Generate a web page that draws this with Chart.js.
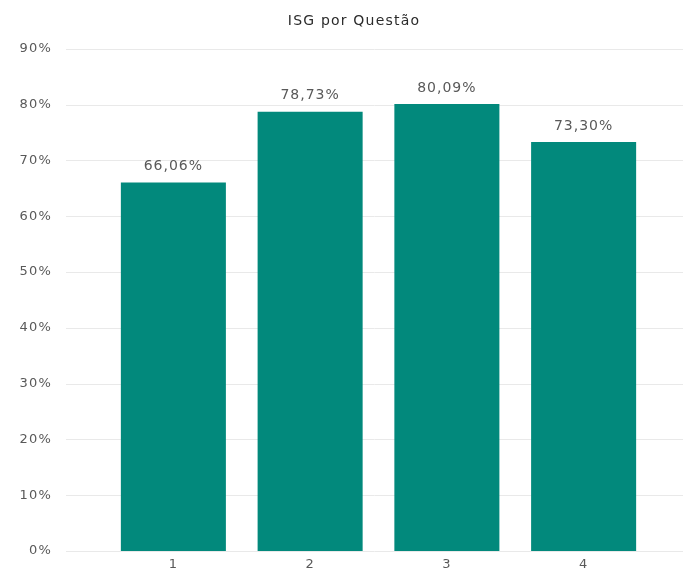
<!DOCTYPE html>
<html>
<head>
<meta charset="utf-8">
<script src="https://cdn.jsdelivr.net/npm/chart.js@4/dist/chart.umd.min.js"></script>
<style>
  html, body { margin: 0; padding: 0; background: #fff; overflow: hidden; }
  canvas { display: block; }
</style>
</head>
<body>
<canvas id="chart" width="683" height="572"></canvas>
<script>
// dados do gráfico
const questoes = ['1', '2', '3', '4'];
const isgValores = [66.06, 78.73, 80.09, 73.30];
const tituloGrafico = 'ISG por Questão';

const corBarra = '#02897c';
const corTexto = '#595959';
const corGrade = '#e9e9e9';
const fonte = '"DejaVu Sans", "Liberation Sans", Arial, sans-serif';

// o texto da referência é mais largo (imagem esticada na horizontal)
// e o título fica um pouco à direita do centro
const ajustes = {
  id: 'ajustes',
  beforeLayout(chart) { chart.ctx.letterSpacing = '1.2px'; },
  afterLayout(chart) {
    const t = chart.titleBlock;
    t.left = 56;
    t.right = 652;
  },
  beforeDraw(chart) { chart.ctx.letterSpacing = '1.2px'; }
};

// linhas de grade que vão além da área das barras (como no Excel)
const gradeLarga = {
  id: 'gradeLarga',
  beforeDatasetsDraw(chart) {
    const { ctx, scales: { y } } = chart;
    ctx.save();
    ctx.strokeStyle = corGrade;
    ctx.lineWidth = 1;
    y.ticks.forEach(t => {
      const py = Math.round(y.getPixelForValue(t.value)) + 0.5;
      ctx.beginPath();
      ctx.moveTo(66, py);
      ctx.lineTo(chart.width, py);
      ctx.stroke();
    });
    ctx.restore();
  }
};

// rótulos de valor acima das barras
const rotulos = {
  id: 'rotulos',
  afterDatasetsDraw(chart) {
    const { ctx } = chart;
    const meta = chart.getDatasetMeta(0);
    ctx.save();
    ctx.font = '14px ' + fonte;
    ctx.letterSpacing = '1px';
    ctx.fillStyle = corTexto;
    ctx.textAlign = 'center';
    ctx.textBaseline = 'middle';
    meta.data.forEach((bar, i) => {
      const txt = isgValores[i].toFixed(2).replace('.', ',') + '%';
      ctx.fillText(txt, bar.x, bar.y - 16);
    });
    ctx.restore();
  }
};

new Chart(document.getElementById('chart'), {
  type: 'bar',
  data: {
    labels: questoes,
    datasets: [{
      data: isgValores,
      backgroundColor: corBarra,
      borderWidth: 0,
      categoryPercentage: 1,
      barPercentage: 0.768
    }]
  },
  options: {
    responsive: false,
    animation: false,
    layout: { padding: { left: 10, right: 31, top: 0, bottom: 0 } },
    plugins: {
      legend: { display: false },
      tooltip: { enabled: false },
      title: {
        display: true,
        text: tituloGrafico,
        color: '#2b2b2b',
        font: { family: fonte, size: 14, weight: 'normal' },
        padding: { top: 13, bottom: 19 }
      }
    },
    scales: {
      x: {
        grid: { display: false, drawTicks: false },
        border: { display: false },
        ticks: { color: corTexto, font: { family: fonte, size: 13 }, padding: 6 },
        afterFit(scale) { scale.height = 21; }
      },
      y: {
        min: 0,
        max: 90,
        ticks: {
          stepSize: 10,
          color: corTexto,
          font: { family: fonte, size: 13 },
          padding: 53,
          callback: v => v + '%'
        },
        grid: { display: false, drawTicks: false },
        border: { display: false },
        afterFit(scale) {
          scale.width = 95;
          // o padding grande dos ticks não deve empurrar a área do gráfico
          scale.paddingTop = 7;
          scale.paddingBottom = 7;
        }
      }
    }
  },
  plugins: [ajustes, gradeLarga, rotulos]
});
</script>
</body>
</html>
